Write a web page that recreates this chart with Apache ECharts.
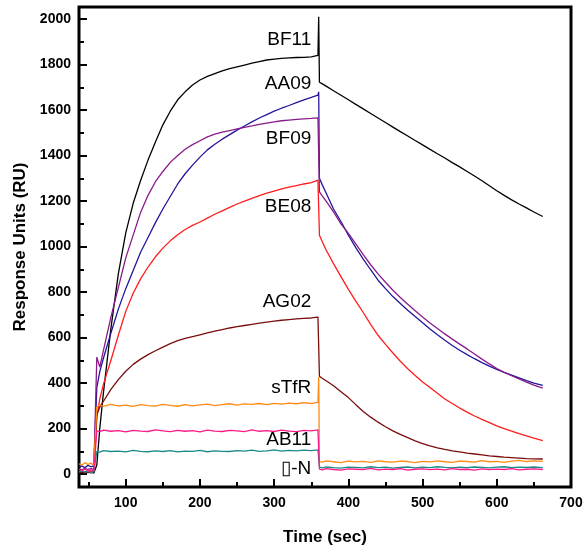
<!DOCTYPE html>
<html>
<head>
<meta charset="utf-8">
<script src="https://cdn.jsdelivr.net/npm/echarts@6/dist/echarts.min.js"></script>
<style>
html,body{margin:0;padding:0;background:#fff;}
#chart{width:588px;height:559px;}
</style>
</head>
<body>
<div id="chart"></div>
<script>
// ---- time grids (sec) ----
const tPre = [37, 41, 45, 49, 53, 57, 59];
const tAssoc = [61, 65, 70, 80, 90, 100, 110, 120, 130, 140, 150, 160, 170, 180, 190, 200, 210, 220, 230, 240, 250, 260, 270, 280, 290, 300, 310, 320, 330, 340, 350, 359];
const tSwitch = 360;
const tDiss = [361, 365, 370, 380, 390, 400, 410, 420, 430, 440, 450, 460, 470, 480, 490, 500, 510, 520, 530, 540, 550, 560, 570, 580, 590, 600, 610, 620, 630, 640, 650, 662];

// ---- BF11 ----
const bf11Pre = [8, 5, 10, 6, 9, 4, 7];
const bf11Assoc = [40, 200, 360, 640, 880, 1060, 1190, 1290, 1380, 1460, 1535, 1595, 1645, 1680, 1710, 1732, 1748, 1760, 1772, 1782, 1790, 1798, 1806, 1813, 1820, 1824, 1827, 1829, 1831, 1832, 1834, 1840];
const bf11Switch = 2010;
const bf11Diss = [1722, 1715, 1705, 1685, 1665, 1645, 1625, 1605, 1585, 1565, 1545, 1525, 1505, 1486, 1466, 1447, 1427, 1408, 1389, 1369, 1350, 1330, 1310, 1289, 1267, 1245, 1225, 1205, 1187, 1170, 1152, 1132];

// ---- AA09 ----
const aa09Pre = [30, 35, 28, 38, 32, 36, 30];
const aa09Assoc = [380, 450, 510, 620, 725, 815, 895, 975, 1040, 1105, 1165, 1220, 1275, 1320, 1358, 1393, 1425, 1450, 1472, 1492, 1512, 1530, 1548, 1565, 1580, 1595, 1608, 1620, 1633, 1645, 1656, 1666];
const aa09Switch = 1680;
const aa09Diss = [1300, 1270, 1235, 1165, 1110, 1050, 995, 945, 898, 852, 815, 780, 750, 720, 692, 665, 638, 612, 588, 565, 544, 525, 507, 490, 474, 460, 447, 435, 423, 411, 400, 390];

// ---- BF09 ----
const bf09Pre = [22, 18, 25, 20, 24, 19, 22];
const bf09Assoc = [514, 470, 545, 690, 820, 950, 1050, 1150, 1225, 1285, 1330, 1370, 1400, 1428, 1448, 1465, 1482, 1494, 1503, 1510, 1517, 1524, 1530, 1537, 1543, 1548, 1553, 1556, 1559, 1561, 1563, 1566];
const bf09Switch = 1568;
const bf09Diss = [1240, 1222, 1200, 1152, 1100, 1058, 1012, 965, 920, 880, 843, 808, 776, 746, 718, 690, 664, 640, 616, 593, 571, 550, 528, 505, 484, 464, 447, 432, 418, 404, 391, 378];

// ---- BE08 ----
const be08Pre = [10, 14, 8, 12, 9, 13, 10];
const be08Assoc = [250, 330, 395, 500, 610, 715, 795, 858, 910, 955, 993, 1025, 1052, 1075, 1093, 1108, 1125, 1142, 1157, 1172, 1187, 1200, 1212, 1224, 1235, 1244, 1253, 1261, 1268, 1275, 1281, 1292];
const be08Switch = 1298;
const be08Diss = [1050, 1020, 985, 925, 868, 812, 760, 710, 658, 610, 570, 532, 496, 463, 433, 405, 380, 355, 330, 310, 290, 272, 255, 240, 226, 212, 200, 189, 178, 168, 158, 147];

// ---- AG02 ----
const ag02Pre = [6, 10, 4, 8, 5, 9, 6];
const ag02Assoc = [260, 295, 320, 372, 415, 452, 482, 505, 525, 542, 558, 573, 586, 596, 604, 612, 620, 628, 635, 642, 648, 653, 658, 663, 668, 672, 676, 679, 682, 684, 686, 690];
const ag02Switch = 690;
const ag02Diss = [430, 420, 410, 388, 362, 336, 305, 275, 250, 228, 208, 190, 174, 160, 146, 134, 124, 115, 108, 102, 97, 92, 88, 84, 80, 77, 74, 72, 70, 68, 67, 66];

// ---- sTfR ----
const stfrPre = [45, 40, 50, 42, 48, 38, 46];
const stfrAssoc = [295, 304, 298, 306, 300, 303, 297, 305, 301, 299, 306, 302, 298, 305, 300, 304, 307, 301, 305, 309, 303, 308, 306, 310, 305, 311, 307, 312, 309, 314, 310, 316];
const stfrSwitch = 426;
const stfrDiss = [55, 52, 58, 54, 50, 57, 53, 56, 51, 58, 54, 52, 57, 55, 50, 56, 53, 58, 54, 51, 57, 55, 52, 59, 54, 56, 51, 57, 60, 55, 58, 56];

// ---- teal ----
const tealPre = [10, 14, 8, 12, 6, 11, 9];
const tealAssoc = [100, 96, 103, 99, 101, 97, 104, 100, 98, 102, 99, 103, 97, 101, 100, 104, 98, 102, 100, 99, 103, 101, 105, 100, 102, 106, 101, 104, 102, 105, 103, 106];
const tealSwitch = 106;
const tealDiss = [30, 27, 31, 28, 26, 30, 29, 27, 32, 28, 30, 26, 29, 31, 27, 30, 28, 32, 29, 27, 30, 28, 31, 29, 27, 30, 32, 28, 30, 29, 31, 28];

// ---- AB11 (pink) ----
const ab11Pre = [20, 15, 22, 12, 18, 14, 20];
const ab11Assoc = [190, 186, 193, 188, 191, 185, 192, 189, 187, 194, 190, 186, 192, 188, 191, 185, 193, 189, 187, 192, 190, 186, 194, 188, 191, 187, 193, 189, 186, 192, 190, 194];
const ab11Switch = 194;
const ab11Diss = [22, 18, 24, 20, 17, 23, 21, 19, 25, 18, 22, 20, 24, 17, 21, 23, 19, 22, 18, 24, 20, 21, 17, 23, 19, 22, 20, 24, 18, 21, 23, 20];

// ---- curve labels ----
const labelNames = ['BF11', 'AA09', 'BF09', 'BE08', 'AG02', 'sTfR', 'AB11', '\u25AF-N'];
const labelAnchorValues = [1908, 1714, 1473, 1174, 756, 380, 150, 22];
const labelAnchorTime = 350;

// ---- tick values ----
const xTickLabels = [100, 200, 300, 400, 500, 600, 700];
const xMinorTicks = [50, 150, 250, 350, 450, 550, 650];
const yTickLabels = [0, 200, 400, 600, 800, 1000, 1200, 1400, 1600, 1800, 2000];
const yMinorTicks = [100, 300, 500, 700, 900, 1100, 1300, 1500, 1700, 1900];

function build(pre, assoc, sw, diss) {
  const out = [];
  tPre.forEach((t, i) => out.push([t, pre[i]]));
  tAssoc.forEach((t, i) => out.push([t, assoc[i]]));
  out.push([tSwitch, sw]);
  tDiss.forEach((t, i) => out.push([t, diss[i]]));
  return out;
}

const curves = [
  { name: 'BF11', color: '#000000', d: build(bf11Pre, bf11Assoc, bf11Switch, bf11Diss) },
  { name: 'AA09', color: '#22169a', d: build(aa09Pre, aa09Assoc, aa09Switch, aa09Diss) },
  { name: 'BF09', color: '#8a1a8c', d: build(bf09Pre, bf09Assoc, bf09Switch, bf09Diss) },
  { name: 'BE08', color: '#ff1c1c', d: build(be08Pre, be08Assoc, be08Switch, be08Diss) },
  { name: 'AG02', color: '#7a0c0c', d: build(ag02Pre, ag02Assoc, ag02Switch, ag02Diss) },
  { name: 'sTfR', color: '#ff8a14', d: build(stfrPre, stfrAssoc, stfrSwitch, stfrDiss) },
  { name: 'N', color: '#1a8a8a', d: build(tealPre, tealAssoc, tealSwitch, tealDiss) },
  { name: 'AB11', color: '#ff1a8a', d: build(ab11Pre, ab11Assoc, ab11Switch, ab11Diss) }
];

const FONT = 'Liberation Sans, Arial, sans-serif';
const chart = echarts.init(document.getElementById('chart'), null, { renderer: 'canvas' });

const series = curves.map(c => ({
  name: c.name,
  type: 'line',
  data: c.d,
  showSymbol: false,
  symbol: 'none',
  lineStyle: { color: c.color, width: 1.3 },
  itemStyle: { color: c.color },
  xAxisIndex: 0,
  yAxisIndex: 0,
  silent: true,
  clip: true
}));

series.push({
  type: 'scatter',
  xAxisIndex: 0,
  yAxisIndex: 0,
  symbolSize: 0,
  silent: true,
  itemStyle: { opacity: 1 },
  data: labelAnchorValues.map((v, i) => ({ value: [labelAnchorTime, v], name: labelNames[i] })),
  label: {
    show: true,
    position: 'left',
    distance: 0,
    formatter: p => p.name,
    color: '#000',
    opacity: 1,
    fontFamily: FONT,
    fontSize: 19
  }
});

const tickStyle = { color: '#000', width: 2 };
const labelStyle = { color: '#000', fontFamily: FONT, fontSize: 14, fontWeight: 'bold', formatter: v => String(v) };

chart.setOption({
  animation: false,
  backgroundColor: '#fff',
  grid: {
    left: 79, right: 17, top: 7, bottom: 72,
    show: true, borderColor: '#000', borderWidth: 3, backgroundColor: 'transparent'
  },
  xAxis: [
    {
      type: 'value', min: 37, max: 700, position: 'bottom',
      axisLine: { show: false, onZero: false },
      splitLine: { show: false },
      axisTick: { show: true, inside: true, length: 8, lineStyle: tickStyle, customValues: xTickLabels },
      axisLabel: Object.assign({ customValues: xTickLabels, margin: 9 }, labelStyle),
      name: 'Time (sec)', nameLocation: 'middle', nameGap: 42,
      nameTextStyle: { color: '#000', fontFamily: FONT, fontSize: 17, fontWeight: 'bold' }
    },
    {
      type: 'value', min: 37, max: 700, position: 'bottom',
      axisLine: { show: false, onZero: false },
      splitLine: { show: false },
      axisLabel: { show: false },
      axisTick: { show: true, inside: true, length: 5, lineStyle: tickStyle, customValues: xMinorTicks }
    }
  ],
  yAxis: [
    {
      type: 'value', min: -57, max: 2053, position: 'left',
      axisLine: { show: false, onZero: false },
      splitLine: { show: false },
      axisTick: { show: true, inside: true, length: 8, lineStyle: tickStyle, customValues: yTickLabels },
      axisLabel: Object.assign({ customValues: yTickLabels, margin: 8 }, labelStyle),
      name: 'Response Units (RU)', nameLocation: 'middle', nameGap: 43,
      nameTextStyle: { color: '#000', fontFamily: FONT, fontSize: 17, fontWeight: 'bold' }
    },
    {
      type: 'value', min: -57, max: 2053, position: 'left',
      axisLine: { show: false, onZero: false },
      splitLine: { show: false },
      axisLabel: { show: false },
      axisTick: { show: true, inside: true, length: 5, lineStyle: tickStyle, customValues: yMinorTicks }
    }
  ],
  series: series
});
</script>
</body>
</html>
